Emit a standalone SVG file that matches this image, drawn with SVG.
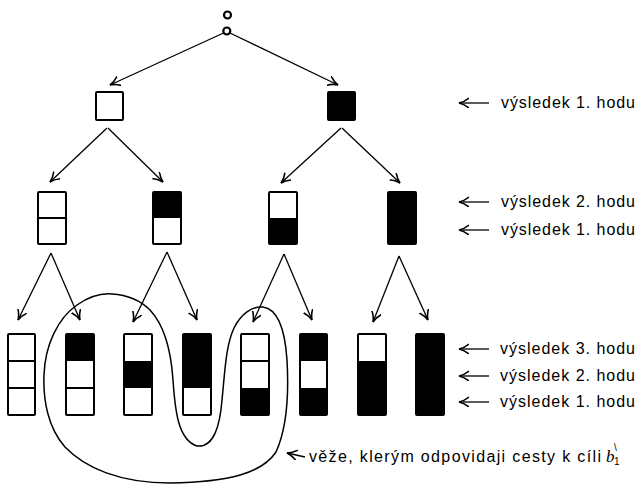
<svg xmlns="http://www.w3.org/2000/svg" width="639" height="490" viewBox="0 0 639 490">
<style>
.bx{fill:#fff;stroke:#000;stroke-width:2}
.bk{fill:#000}
.dv{stroke:#000;stroke-width:2}
.cn{fill:none;stroke:#000;stroke-width:1.3}
.lb{font-family:"Liberation Sans",Arial,sans-serif;font-size:16px;fill:#000}
</style>
<defs>
<marker id="ah" markerWidth="12" markerHeight="12" refX="10" refY="5" orient="auto" markerUnits="userSpaceOnUse">
<path d="M0,0 Q5,4 10,5 Q5,6 0,10" fill="none" stroke="#000" stroke-width="1.6"/>
</marker>
</defs>
<rect width="639" height="490" fill="#fff"/>

<g id="root">
<circle cx="227.5" cy="15" r="3.5" fill="none" stroke="#000" stroke-width="2.2"/>
<circle cx="226.8" cy="31" r="3.5" fill="none" stroke="#000" stroke-width="2.2"/>
</g>

<g id="l1w"><rect class="bx" x="96" y="92" width="27" height="28" rx="1"/></g>
<g id="l1b"><rect class="bx" x="328" y="92" width="27" height="28" rx="1" style="fill:#000"/></g>

<g id="l2a"><rect class="bx" x="38" y="192" width="28" height="52" rx="1"/><line class="dv" x1="38" y1="218" x2="66" y2="218"/></g>
<g id="l2b"><rect class="bx" x="153" y="192" width="28" height="52" rx="1"/><rect class="bk" x="153" y="192" width="28" height="26"/></g>
<g id="l2c"><rect class="bx" x="269" y="192" width="28" height="52" rx="1"/><rect class="bk" x="269" y="218" width="28" height="26"/></g>
<g id="l2d"><rect class="bx" x="388" y="192" width="28" height="52" rx="1" style="fill:#000"/></g>

<g id="l3a"><rect class="bx" x="8" y="334" width="27" height="81" rx="1"/><line class="dv" x1="8" y1="361" x2="35" y2="361"/><line class="dv" x1="8" y1="388" x2="35" y2="388"/></g>
<g id="l3b"><rect class="bx" x="66" y="334" width="28" height="81" rx="1"/><rect class="bk" x="66" y="334" width="28" height="27"/><line class="dv" x1="66" y1="388" x2="94" y2="388"/></g>
<g id="l3c"><rect class="bx" x="124" y="334" width="28" height="81" rx="1"/><rect class="bk" x="124" y="361" width="28" height="27"/></g>
<g id="l3d"><rect class="bx" x="183" y="334" width="28" height="81" rx="1"/><rect class="bk" x="183" y="334" width="28" height="54"/></g>
<g id="l3e"><rect class="bx" x="241" y="334" width="28" height="81" rx="1"/><line class="dv" x1="241" y1="361" x2="269" y2="361"/><rect class="bk" x="241" y="388" width="28" height="27"/></g>
<g id="l3f"><rect class="bx" x="300" y="334" width="27" height="81" rx="1"/><rect class="bk" x="300" y="334" width="27" height="27"/><rect class="bk" x="300" y="388" width="27" height="27"/></g>
<g id="l3g"><rect class="bx" x="358" y="334" width="28" height="81" rx="1"/><rect class="bk" x="358" y="361" width="28" height="54"/></g>
<g id="l3h"><rect class="bx" x="416" y="334" width="28" height="81" rx="1" style="fill:#000"/></g>

<g id="connectors">
<line class="cn" x1="223.5" y1="33" x2="110" y2="85" marker-end="url(#ah)"/>
<line class="cn" x1="230" y1="33" x2="338" y2="85" marker-end="url(#ah)"/>
<line class="cn" x1="107" y1="128" x2="50" y2="182" marker-end="url(#ah)"/>
<line class="cn" x1="108" y1="128" x2="163" y2="182" marker-end="url(#ah)"/>
<line class="cn" x1="341" y1="128" x2="281" y2="183" marker-end="url(#ah)"/>
<line class="cn" x1="342" y1="128" x2="400" y2="183" marker-end="url(#ah)"/>
<line class="cn" x1="51" y1="253" x2="18" y2="320" marker-end="url(#ah)"/>
<line class="cn" x1="51" y1="253" x2="80" y2="320" marker-end="url(#ah)"/>
<line class="cn" x1="167" y1="252" x2="133" y2="322" marker-end="url(#ah)"/>
<line class="cn" x1="167" y1="252" x2="197" y2="320" marker-end="url(#ah)"/>
<line class="cn" x1="284" y1="254" x2="253" y2="322" marker-end="url(#ah)"/>
<line class="cn" x1="284" y1="254" x2="312" y2="320" marker-end="url(#ah)"/>
<line class="cn" x1="399" y1="256" x2="373" y2="322" marker-end="url(#ah)"/>
<line class="cn" x1="399" y1="256" x2="428" y2="320" marker-end="url(#ah)"/>
<path class="cn" style="stroke-width:1.5" d="M77,305 C90,296 100,293 112,294 C128,295 140,300 150,310 C165,326 171,350 173,380 C175,410 178,440 197,446 C214,448 220,425 222,400 C225,370 226,345 234,328 C241,314 252,306 263,307 C278,309 285,330 287,360 C289,395 287,428 276,452 C262,473 230,482 170,483 C120,483 85,468 65,447 C48,428 43,400 44,375 C45,345 58,318 77,305 Z"/>
<line class="cn" x1="489" y1="103" x2="459" y2="103" marker-end="url(#ah)"/>
<line class="cn" x1="489" y1="202" x2="459" y2="202" marker-end="url(#ah)"/>
<line class="cn" x1="489" y1="230" x2="459" y2="230" marker-end="url(#ah)"/>
<line class="cn" x1="489" y1="349" x2="459" y2="349" marker-end="url(#ah)"/>
<line class="cn" x1="489" y1="376" x2="459" y2="376" marker-end="url(#ah)"/>
<line class="cn" x1="489" y1="402" x2="459" y2="402" marker-end="url(#ah)"/>
<line class="cn" x1="305" y1="457" x2="287" y2="453" marker-end="url(#ah)"/>
</g>

<g id="labels">
<text class="lb" x="501" y="108" textLength="134">výsledek 1. hodu</text>
<text class="lb" x="501" y="207" textLength="134">výsledek 2. hodu</text>
<text class="lb" x="501" y="235" textLength="134">výsledek 1. hodu</text>
<text class="lb" x="500" y="354" textLength="135">výsledek 3. hodu</text>
<text class="lb" x="500" y="381" textLength="135">výsledek 2. hodu</text>
<text class="lb" x="500" y="407" textLength="135">výsledek 1. hodu</text>
<text class="lb" x="309" y="462" textLength="292">věže, klerým odpovidaji cesty k cíli</text>
<text class="lb" x="606" y="462" style="font-family:'Liberation Serif',serif;font-style:italic;font-size:17px">b</text>
<text class="lb" x="614" y="465" style="font-size:10px">1</text>
<text class="lb" x="614" y="451" style="font-size:10px">\</text>
</g>
</svg>
